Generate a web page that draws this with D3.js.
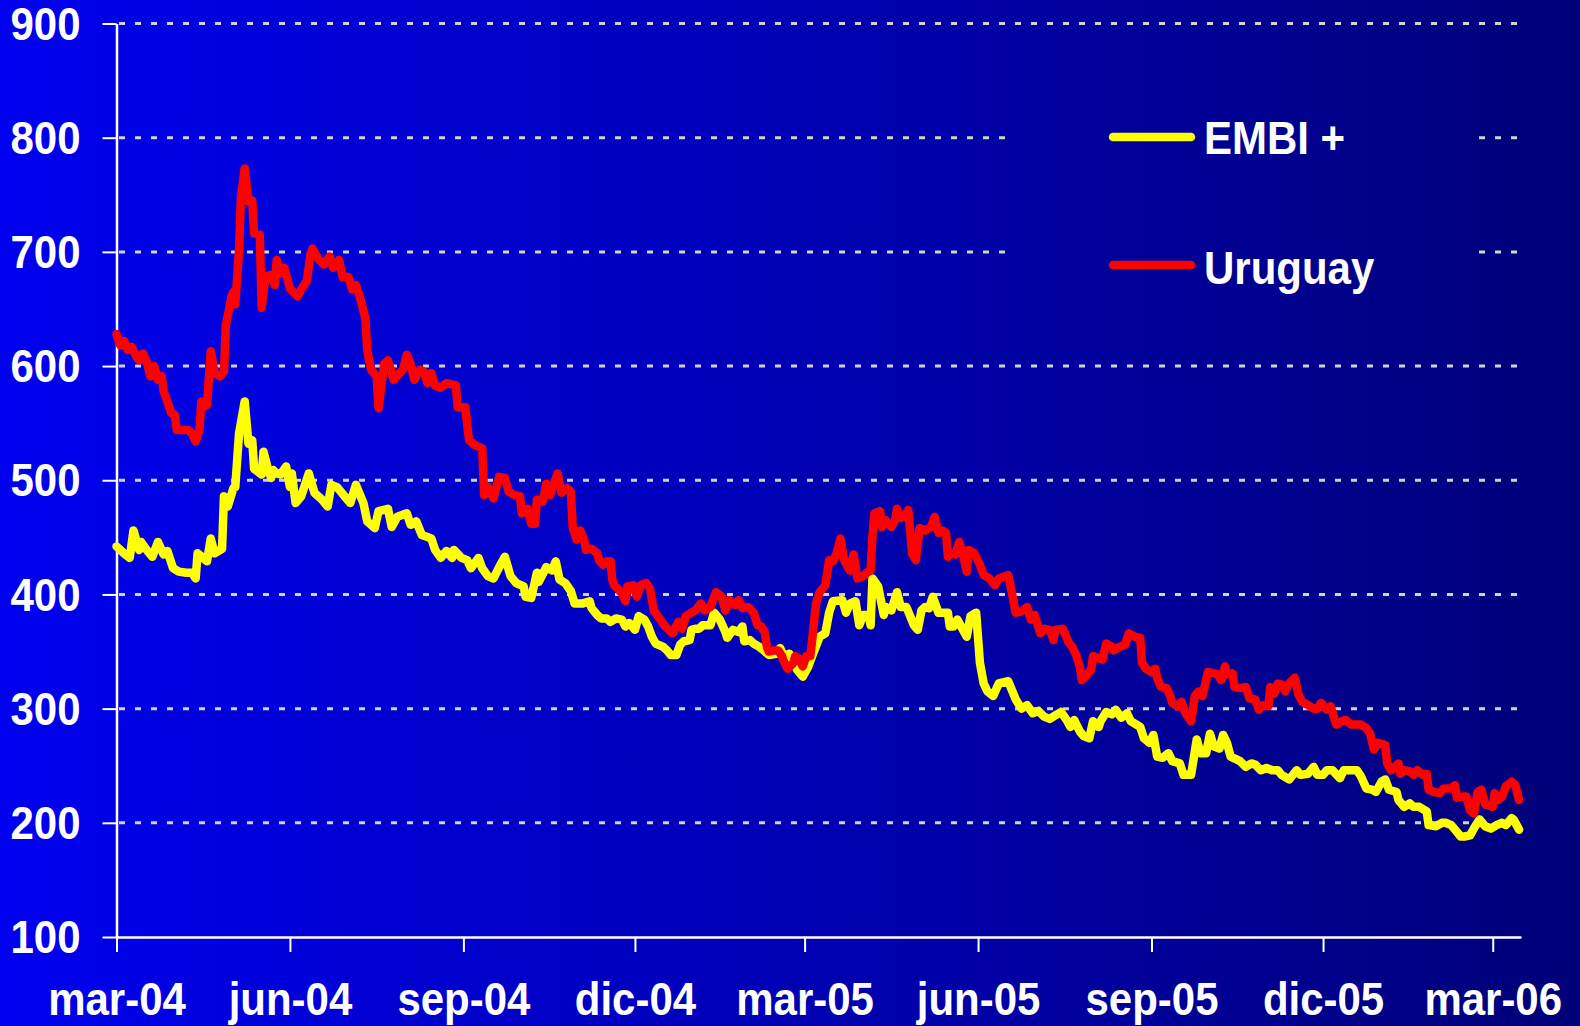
<!DOCTYPE html>
<html>
<head>
<meta charset="utf-8">
<script src="https://cdn.jsdelivr.net/npm/d3@7"></script>
<style>
  html, body { margin: 0; padding: 0; background: #00007a; }
  svg { display: block; }
</style>
</head>
<body>
<div id="chart"></div>
<script>
// spreads en puntos básicos, [días desde 1-mar-2004, valor]
const START = new Date(2004, 2, 1);
const END_DAY = 745;

const embi = [
  [0,442],[2,439],[4,436],[7,432],[9,456],[12,439],[13,446],[16,439],[19,433],[22,446],[25,435],[27,438],
  [30,423],[33,420],[37,419],[40,419],[42,414],[43,436],[46,432],[48,429],[50,449],[52,436],[56,440],[57,486],
  [59,477],[62,493],[63,494],[65,541],[68,569],[70,532],[72,535],[73,510],[77,505],[78,525],[80,512],[82,502],
  [83,509],[85,506],[87,505],[90,512],[92,494],[93,506],[95,480],[98,486],[102,506],[105,489],[109,483],[112,477],
  [114,496],[117,494],[121,486],[124,480],[127,496],[131,480],[133,464],[137,458],[139,473],[144,475],[146,459],
  [149,468],[154,471],[156,461],[159,464],[162,452],[167,449],[169,439],[172,432],[175,438],[178,432],[179,439],
  [183,432],[186,430],[188,423],[192,432],[194,423],[197,416],[200,414],[203,424],[206,433],[209,416],[212,410],
  [216,407],[217,398],[220,397],[223,419],[224,411],[228,424],[231,421],[233,429],[235,413],[238,410],[241,403],
  [243,392],[247,392],[251,394],
  [252,388],[255,382],[257,379],[260,379],[262,376],[265,379],[268,378],[270,372],[272,375],[275,369],[277,381],
  [280,378],[282,372],[284,363],[286,357],[290,354],[292,351],[294,347],[297,347],[299,356],[301,359],[304,360],
  [305,369],[307,370],[309,370],[311,373],[315,373],[317,384],[320,378],[323,367],[324,362],[327,369],[330,367],
  [332,372],[333,359],[336,360],[338,357],[341,354],[344,350],[346,347],[350,348],[352,353],[354,346],[357,348],
  [359,341],[361,334],[364,328],[367,337],[369,346],[373,363],[376,366],[378,384],[380,394],[385,395],[387,384],
  [389,392],[392,394],[394,373],[396,382],[399,382],[400,373],[401,414],[404,407],[407,382],[408,389],[411,386],
  [414,402],[416,389],[419,389],[421,381],[423,373],[425,369],[427,386],[429,389],[431,388],[433,398],[436,384],
  [438,384],[441,384],[442,372],[444,372],[446,378],[448,372],[451,363],[453,381],[456,384],[458,340],[460,322],
  [462,315],[465,311],[468,322],[473,324],[475,316],[477,308],[480,300],[483,303],[486,296],[489,298],[492,293],
  [495,291],[498,294],
  [501,297],[504,290],[506,284],[508,290],[511,280],[513,276],[516,274],[518,289],[521,284],[522,289],[525,297],
  [528,295],[530,299],[533,292],[536,296],[538,289],[541,286],[543,284],[545,274],[548,270],[550,277],[552,258],
  [555,257],[558,261],[560,254],[564,252],[566,242],[570,242],[573,273],[575,261],[578,261],[580,278],[582,267],
  [585,265],[587,277],[589,270],[591,258],[596,254],[599,249],[602,252],[604,251],[607,246],[610,248],[613,246],
  [616,246],[618,242],[622,238],[624,242],[626,246],[628,242],[632,243],[635,249],[637,242],[640,242],[642,246],
  [645,246],[649,239],[651,246],[655,246],[658,246],[660,241],[663,230],[666,229],[668,227],[671,236],[673,238],
  [675,229],[679,227],[680,220],[683,214],[686,217],[688,214],[691,214],[695,210],[696,198],[700,197],[703,200],
  [705,200],[708,198],[710,194],[713,188],[715,188],[718,189],[720,195],[723,203],[726,197],[729,195],[732,198],
  [735,200],[737,198],[740,204],[741,203],[744,194]
];

const uruguay = [
  [0,628],[2,618],[4,622],[6,614],[8,617],[10,610],[12,605],[14,611],[16,604],[18,591],[20,600],[22,588],
  [24,591],[25,578],[27,569],[29,559],[31,557],[32,544],[34,544],[38,544],[40,541],[42,534],[44,544],[45,569],
  [46,564],[48,566],[50,613],[52,594],[55,591],[57,595],[58,636],[60,652],[61,661],[62,665],[63,654],[65,702],
  [66,748],[68,773],[70,744],[72,745],[73,716],[76,715],[77,651],[79,678],[82,680],[84,671],[85,693],[87,681],
  [89,686],[92,668],[96,661],[98,667],[101,675],[103,699],[104,703],[107,694],[110,689],[113,696],[115,686],
  [118,693],[120,678],[123,678],[125,667],[127,671],[129,661],[132,642],[133,614],[135,597],[138,591],[139,563],
  [142,602],[144,605],[147,588],[152,597],[154,610],[156,602],[158,588],[161,597],[163,595],[165,585],[167,594],
  [169,583],[172,581],[175,585],[180,583],[181,564],[185,564],[187,535],[190,531],[194,528],[195,487],[197,494],
  [200,484],[202,497],[203,503],[206,502],[208,490],[211,487],[214,486],[215,471],[218,475],[220,462],[222,462],
  [223,483],[226,481],[228,497],[230,487],[232,497],[234,506],[236,489],[239,493],[241,490],[242,459],[244,448],
  [246,456],[248,448],[249,439],[251,440],
  [252,440],[255,436],[256,430],[258,426],[260,429],[262,429],[263,413],[264,408],[266,405],[268,401],[270,394],
  [271,407],[274,408],[276,398],[278,408],[281,410],[283,405],[285,386],[288,379],[291,372],[293,369],[295,366],
  [298,376],[300,370],[302,381],[305,384],[307,386],[310,392],[312,386],[315,389],[318,402],[321,398],[323,386],
  [325,395],[328,391],[330,395],[332,388],[335,389],[338,384],[340,373],[342,372],[344,366],[345,354],[346,350],
  [349,351],[351,351],[353,346],[354,341],[356,335],[359,340],[360,346],[362,344],[364,337],[366,346],[368,346],
  [369,360],[371,392],[373,402],[376,408],[378,430],[380,429],[382,436],[384,449],[386,430],[389,421],[391,435],
  [393,414],[396,416],[398,419],[400,421],[401,451],[402,471],[405,473],[406,459],[408,465],[411,459],[413,465],
  [414,475],[416,467],[418,468],[420,474],[422,436],[424,430],[426,458],[429,456],[432,459],[434,468],[436,454],
  [438,456],[440,454],[441,433],[443,436],[445,435],[447,446],[449,435],[451,420],[452,439],[455,436],[458,426],
  [460,417],[463,414],[466,408],[468,414],[473,417],[475,401],[477,384],[480,385],[483,389],[485,378],[487,382],
  [490,366],[492,370],[495,369],[497,360],[498,369],
  [502,370],[505,358],[507,354],[509,347],[511,337],[512,325],[514,328],[517,334],[518,346],[521,344],[523,343],
  [525,357],[528,354],[529,351],[532,354],[535,356],[537,366],[540,363],[543,362],[544,340],[546,335],[549,332],
  [551,335],[552,327],[554,319],[557,318],[559,311],[560,305],[563,302],[565,306],[567,296],[570,289],[572,311],
  [574,315],[576,311],[579,332],[582,331],[584,330],[586,325],[588,337],[589,330],[592,331],[593,319],[596,318],
  [599,319],[601,309],[604,308],[606,299],[608,303],[611,302],[612,319],[614,313],[616,322],[618,321],[620,315],
  [622,322],[625,327],[627,312],[629,306],[632,303],[635,300],[637,300],[639,305],[642,299],[644,302],[647,286],
  [650,289],[652,290],[655,286],[657,286],[660,286],[663,283],[665,278],[667,264],[669,270],[673,268],[674,252],
  [676,246],[680,252],[681,243],[683,246],[686,245],[688,242],[690,246],[693,242],[695,243],[696,229],[699,227],
  [702,226],[704,230],[708,230],[710,233],[711,222],[714,223],[716,223],[718,211],[720,208],[722,227],[724,229],
  [726,216],[730,214],[731,226],[733,220],[735,223],[737,232],[740,236],[742,233],[744,220]
];

const yTicks = [100, 200, 300, 400, 500, 600, 700, 800, 900];
const meses = ["ene","feb","mar","abr","may","jun","jul","ago","sep","oct","nov","dic"];
const seriesNames = ["EMBI +", "Uruguay"];
const seriesColors = ["#ffff00", "#ff0000"];

const W = 1580, H = 1026;
const STRETCH = 1.1;   // el texto del original es algo más alto que ancho
const toDate = d => d3.timeDay.offset(START, d);

const svg = d3.select("#chart").append("svg")
    .attr("width", W).attr("height", H);

// fondo degradado
const grad = svg.append("defs").append("linearGradient")
    .attr("id", "bg").attr("gradientUnits", "userSpaceOnUse")
    .attr("x1", 0).attr("y1", 0).attr("x2", W).attr("y2", 0);
grad.append("stop").attr("offset", "0%").attr("stop-color", "#0000f0");
grad.append("stop").attr("offset", "100%").attr("stop-color", "#000078");
svg.append("rect").attr("width", W).attr("height", H).attr("fill", "url(#bg)");

const x = d3.scaleTime()
    .domain([START, toDate(END_DAY)])
    .range([116.5, 1521]);
const y = d3.scaleLinear()
    .domain([100, 900])
    .range([937, 23.5]);

const FONT = "'Liberation Sans', Arial, sans-serif";

// grilla punteada
svg.append("g")
  .selectAll("line")
  .data(yTicks.filter(v => v > 100))
  .join("line")
    .attr("x1", 119).attr("x2", 1521)
    .attr("y1", d => y(d)).attr("y2", d => y(d))
    .attr("stroke", "#d2d2d2")
    .attr("stroke-width", 3)
    .attr("stroke-dasharray", "6 10");

// ejes: trimestres desde mar-04
const quarters = d3.timeMonth.range(START, toDate(END_DAY), 3);
const xAxis = svg.append("g")
    .attr("transform", `translate(0,${y(100)})`)
    .call(d3.axisBottom(x)
      .tickValues(quarters)
      .tickSize(15).tickSizeOuter(0)
      .tickFormat(d => `${meses[d.getMonth()]}-${d3.timeFormat("%y")(d)}`));

const yAxis = svg.append("g")
    .attr("transform", `translate(${x(START)},0)`)
    .call(d3.axisLeft(y)
      .tickValues(yTicks)
      .tickSize(14).tickSizeOuter(0).tickPadding(22));

[xAxis, yAxis].forEach(g => {
  g.attr("font-family", FONT).attr("font-size", 42).attr("font-weight", "bold");
  g.select(".domain").attr("stroke", "#fff").attr("stroke-width", 2.5);
  g.selectAll(".tick line").attr("stroke", "#fff").attr("stroke-width", 2);
  g.selectAll(".tick text").attr("fill", "#fff")
    .attr("transform", `scale(1,${STRETCH})`);
});
yAxis.selectAll(".tick text").attr("dy", "0.34em");
xAxis.selectAll(".tick text").attr("dy", null).attr("y", 78 / STRETCH);

// series
const line = d3.line()
    .x(d => x(toDate(d[0])))
    .y(d => y(d[1]));

svg.append("g")
  .selectAll("path")
  .data([embi, uruguay])
  .join("path")
    .attr("d", line)
    .attr("fill", "none")
    .attr("stroke", (d, i) => seriesColors[i])
    .attr("stroke-width", 8.5)
    .attr("stroke-linejoin", "round")
    .attr("stroke-linecap", "round");

// leyenda
const legend = svg.append("g");
legend.append("rect")
    .attr("x", 1013).attr("y", 100).attr("width", 457).attr("height", 200)
    .attr("fill", "url(#bg)");
const items = legend.selectAll("g")
  .data(seriesNames)
  .join("g")
    .attr("transform", (d, i) => `translate(0,${i === 0 ? 137 : 265})`);
items.append("line")
    .attr("x1", 1113).attr("x2", 1191)
    .attr("stroke", (d, i) => seriesColors[i])
    .attr("stroke-width", 8.5)
    .attr("stroke-linecap", "round");
items.append("text")
    .attr("transform", (d, i) => `translate(1204,${i === 0 ? 17 : 19}) scale(1,${STRETCH})`)
    .attr("fill", "#fff")
    .attr("font-family", FONT).attr("font-size", 42).attr("font-weight", "bold")
    .text(d => d);
</script>
</body>
</html>
